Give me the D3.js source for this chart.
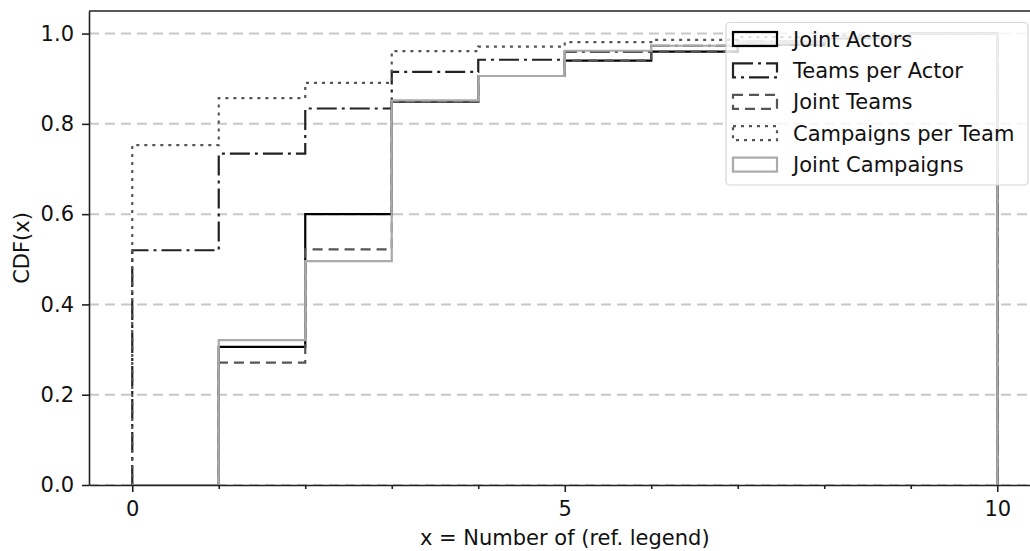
<!DOCTYPE html>
<meta charset="utf-8">
<style>

body {
  margin: 0;
  background: #fff;
}

text {
  font-family: "DejaVu Sans", sans-serif;
  fill: #111;
}

.grid line {
  stroke: #c8c8c8;
  stroke-width: 2px;
  stroke-dasharray: 10, 6;
}

.step {
  fill: none;
  stroke-width: 2.2px;
}

</style>
<svg width="1030" height="551"></svg>
<script src="https://d3js.org/d3.v7.min.js"></script>
<script>

// bin edges (integer bins 0..10) and cumulative share per bin
var binEdges = [0, 1, 2, 3, 4, 5, 6, 7, 8, 9, 10];

var jointActors      = [0.000, 0.306, 0.600, 0.849, 0.906, 0.940, 0.960, 0.975, 0.990, 1.000];
var teamsPerActor    = [0.520, 0.734, 0.834, 0.915, 0.942, 0.960, 0.973, 0.982, 0.992, 1.000];
var jointTeams       = [0.000, 0.271, 0.522, 0.849, 0.906, 0.940, 0.960, 0.975, 0.990, 1.000];
var campaignsPerTeam = [0.753, 0.857, 0.891, 0.961, 0.971, 0.981, 0.986, 0.992, 0.996, 1.000];
var jointCampaigns   = [0.000, 0.321, 0.496, 0.852, 0.906, 0.962, 0.973, 0.982, 0.992, 1.000];

var seriesNames = ["Joint Actors", "Teams per Actor", "Joint Teams", "Campaigns per Team", "Joint Campaigns"];
var seriesValues = [jointActors, teamsPerActor, jointTeams, campaignsPerTeam, jointCampaigns];

var xMajorTicks = [0, 5, 10];
var xMinorTicks = [1, 2, 3, 4, 6, 7, 8, 9];
var yTicks = [0, 0.2, 0.4, 0.6, 0.8, 1.0];

var styles = [
  {color: "#000",    dash: null},
  {color: "#222",    dash: "20,5,3,5"},
  {color: "#555",    dash: "10,6"},
  {color: "#555",    dash: "3,5"},
  {color: "#aaaaaa", dash: null}
];

var svg = d3.select("svg"),
    plotLeft = 89, plotTop = 11, plotBottom = 485,
    fontSize = 21;

var x = d3.scaleLinear().domain([-0.5, 10.5]).range([plotLeft, plotLeft + 11 * 86.5]);
var y = d3.scaleLinear().domain([0, 1.05]).range([plotBottom, plotTop]);

svg.append("defs").append("clipPath").attr("id", "clip")
  .append("rect")
    .attr("x", x(-0.5)).attr("y", plotTop)
    .attr("width", x(10.5) - x(-0.5)).attr("height", plotBottom - plotTop);

// horizontal grid
svg.append("g")
    .attr("class", "grid")
  .selectAll("line")
  .data(yTicks)
  .enter().append("line")
    .attr("x1", x(-0.5)).attr("x2", x(10.5))
    .attr("y1", function(d) { return y(d); })
    .attr("y2", function(d) { return y(d); });

// step outlines like a matplotlib histtype="step"
function stepPoints(vals) {
  var pts = [[binEdges[0], 0]];
  vals.forEach(function(v, i) {
    pts.push([binEdges[i], v]);
    pts.push([binEdges[i + 1], v]);
  });
  pts.push([binEdges[binEdges.length - 1], 0]);
  return pts;
}

var line = d3.line()
    .x(function(d) { return x(d[0]); })
    .y(function(d) { return y(d[1]); });

svg.append("g")
    .attr("clip-path", "url(#clip)")
  .selectAll("path")
  .data(seriesValues)
  .enter().append("path")
    .attr("class", "step")
    .attr("d", function(d) { return line(stepPoints(d)); })
    .style("stroke", function(d, i) { return styles[i].color; })
    .style("stroke-dasharray", function(d, i) { return styles[i].dash; });

// axes
svg.append("g")
    .attr("transform", "translate(0," + plotBottom + ")")
    .call(d3.axisBottom(x).tickValues(xMajorTicks).tickSize(7).tickPadding(9).tickSizeOuter(0));

svg.append("g")
    .attr("transform", "translate(0," + plotBottom + ")")
    .call(d3.axisBottom(x).tickValues(xMinorTicks).tickSize(4).tickFormat("").tickSizeOuter(0))
    .select(".domain").remove();

svg.append("g")
    .attr("transform", "translate(" + plotLeft + ",0)")
    .call(d3.axisLeft(y).tickValues(yTicks).tickFormat(d3.format(".1f")).tickSize(7).tickPadding(8).tickSizeOuter(0));

svg.selectAll(".tick text")
    .style("font-size", fontSize + "px")
    .style("font-family", "'DejaVu Sans', sans-serif")
    .attr("fill", "#111");
svg.selectAll(".domain, .tick line")
    .attr("stroke", "#222")
    .attr("stroke-width", 1.6);

// top and right spines
svg.append("line")
    .attr("x1", x(-0.5)).attr("x2", x(10.5))
    .attr("y1", plotTop).attr("y2", plotTop)
    .attr("stroke", "#222").attr("stroke-width", 1.6);
svg.append("line")
    .attr("x1", x(10.5)).attr("x2", x(10.5))
    .attr("y1", plotTop).attr("y2", plotBottom)
    .attr("stroke", "#222").attr("stroke-width", 1.6);

svg.append("text")
    .attr("x", (x(-0.5) + x(10.5)) / 2)
    .attr("y", 545)
    .attr("text-anchor", "middle")
    .style("font-size", fontSize + "px")
    .text("x = Number of (ref. legend)");

svg.append("text")
    .attr("transform", "translate(29," + (plotTop + plotBottom) / 2 + ") rotate(-90)")
    .attr("text-anchor", "middle")
    .style("font-size", fontSize + "px")
    .text("CDF(x)");

// legend
var legend = svg.append("g");

legend.append("rect")
    .attr("x", 726).attr("y", 22.5)
    .attr("width", 302).attr("height", 162.5)
    .attr("rx", 4)
    .attr("fill", "#fff").attr("fill-opacity", 0.8)
    .attr("stroke", "#d6d6d6").attr("stroke-width", 1.2);

var item = legend.selectAll(".item")
  .data(seriesNames)
  .enter().append("g")
    .attr("class", "item")
    .attr("transform", function(d, i) { return "translate(0," + (39 + i * 31.4) + ")"; });

item.append("rect")
    .attr("x", 733).attr("y", -7)
    .attr("width", 44).attr("height", 14)
    .attr("fill", "none")
    .attr("stroke-width", 2.2)
    .attr("stroke", function(d, i) { return styles[i].color; })
    .attr("stroke-dasharray", function(d, i) { return styles[i].dash; });

item.append("text")
    .attr("x", 793)
    .attr("dy", "0.36em")
    .style("font-size", fontSize + "px")
    .text(function(d) { return d; });

</script>
